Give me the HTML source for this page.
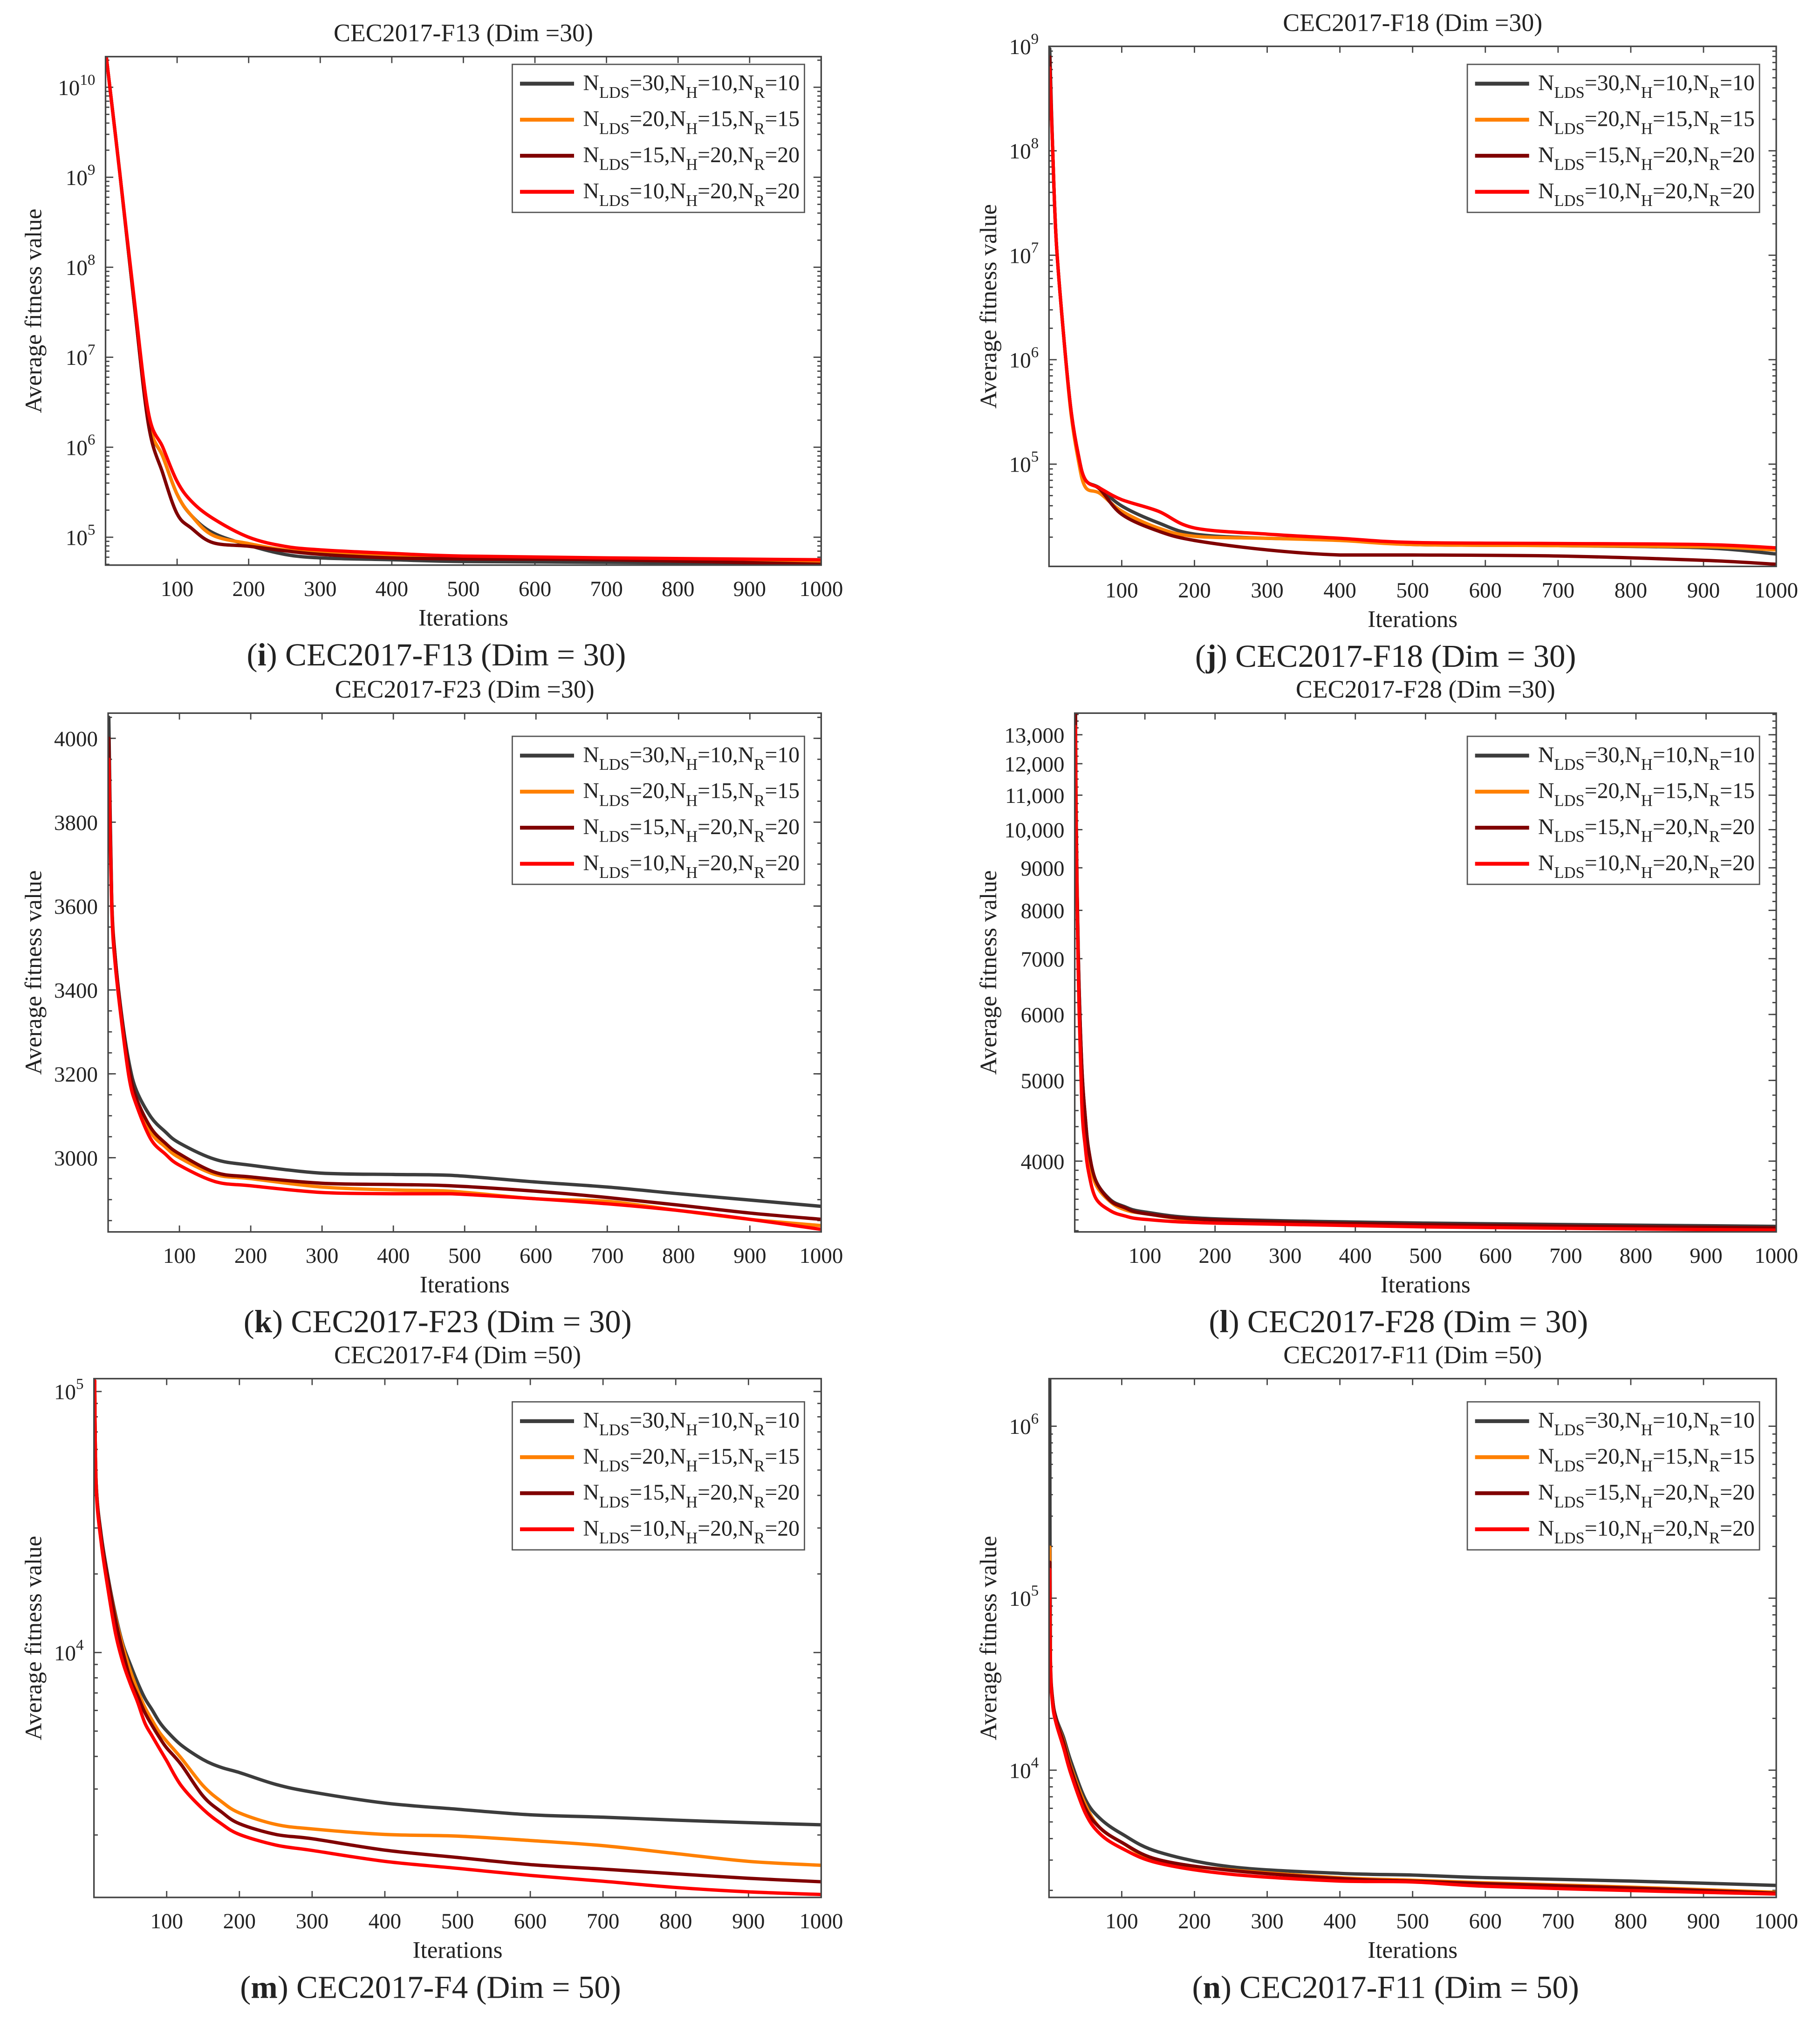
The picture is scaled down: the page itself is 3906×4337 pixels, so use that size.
<!DOCTYPE html>
<html><head><meta charset="utf-8"><style>
html,body{margin:0;padding:0;background:#fff;}
svg{display:block;}
text{font-family:"Liberation Serif",serif;fill:#222;}
</style></head><body>
<svg id="fig" xmlns="http://www.w3.org/2000/svg" width="3906" height="4337" viewBox="0 0 1414 1570" preserveAspectRatio="none"></svg>
<script>
// ---------- data ----------
const legendLabels = [["30","10","10"],["20","15","15"],["15","20","20"],["10","20","20"]];
const seriesColors = ["#3c3c3c","#ff8000","#800000","#ff0000"];

const f13Iter = [1,20,40,60,80,100,120,150,200,250,300,400,500,700,1000];
const f13Gray = [2.2e10,1.1e9,4e7,1.95e6,7.9e5,3.0e5,1.74e5,1.12e5,8.13e4,6.46e4,5.89e4,5.62e4,5.37e4,5.25e4,5.13e4];
const f13Orange = [2.2e10,1.1e9,4e7,2.0e6,7.9e5,3.0e5,1.74e5,1.05e5,8.5e4,7.24e4,6.76e4,6.31e4,6.03e4,5.75e4,5.37e4];
const f13Dark = [2.2e10,1.1e9,4e7,1.78e6,5.13e5,1.82e5,1.26e5,8.7e4,7.94e4,7.08e4,6.46e4,5.89e4,5.75e4,5.62e4,5.01e4];
const f13Red = [2.2e10,1.1e9,4.47e7,2.4e6,1e6,4.17e5,2.51e5,1.62e5,1e5,7.94e4,7.24e4,6.61e4,6.17e4,5.89e4,5.62e4];

const f18Iter = [1,5,10,20,30,40,50,70,100,150,200,300,400,500,700,900,1000];
const f18Gray = [9.5e8,1.05e8,1.35e7,1.74e6,3.39e5,1.26e5,7.08e4,5.89e4,3.98e4,2.75e4,2.14e4,1.95e4,1.91e4,1.70e4,1.66e4,1.58e4,1.38e4];
const f18Orange = [6.6e8,1.05e8,1.35e7,1.74e6,3.16e5,1.12e5,6.03e4,5.25e4,3.55e4,2.45e4,2.04e4,1.95e4,1.86e4,1.70e4,1.66e4,1.62e4,1.51e4];
const f18Dark = [7.9e8,1.05e8,1.35e7,1.74e6,3.39e5,1.26e5,7.08e4,5.75e4,3.31e4,2.29e4,1.86e4,1.51e4,1.35e4,1.35e4,1.32e4,1.2e4,1.1e4];
const f18Red = [6.2e8,1.05e8,1.35e7,1.74e6,3.39e5,1.26e5,7.08e4,5.89e4,4.57e4,3.55e4,2.45e4,2.14e4,1.95e4,1.78e4,1.74e4,1.70e4,1.58e4];

const f23Iter = [1,5,10,20,30,40,60,80,100,150,200,300,400,480,600,700,800,900,1000];
const f23Gray = [4050,3618,3477,3327,3221,3159,3097,3062,3035,2996,2982,2963,2960,2958,2942,2930,2914,2899,2884];
const f23Orange = [3950,3618,3477,3315,3195,3135,3060,3026,3000,2960,2950,2930,2923,2920,2902,2896,2874,2853,2838];
const f23Dark = [4000,3618,3477,3320,3205,3140,3071,3035,3009,2965,2954,2939,2936,2933,2920,2905,2887,2868,2853];
const f23Red = [3950,3600,3460,3309,3185,3124,3044,3009,2982,2943,2933,2917,2914,2914,2902,2890,2874,2853,2829];

const f28Iter = [1,2,5,10,15,20,30,50,70,100,200,500,1000];
const f28Gray = [13800,10400,7100,5210,4520,4120,3790,3600,3530,3475,3410,3370,3340];
const f28Orange = [13500,10400,7000,5100,4450,4050,3750,3580,3500,3460,3390,3350,3315];
const f28Dark = [13800,10400,7100,5210,4520,4120,3790,3590,3520,3460,3400,3355,3325];
const f28Red = [13300,10000,6745,4700,4160,3870,3610,3490,3440,3405,3370,3335,3305];

const f4Iter = [1,3,10,20,30,40,50,60,70,80,90,100,120,150,175,200,250,300,400,500,600,700,800,900,1000];
const f4Gray = [1.1e5,4.47e4,2.82e4,1.9e4,1.38e4,1.07e4,9000,7670,6680,6030,5420,5010,4420,3890,3630,3470,3125,2920,2650,2510,2390,2340,2280,2230,2188];
const f4Orange = [1.1e5,4.47e4,2.75e4,1.86e4,1.35e4,1.05e4,8510,7160,6170,5500,4950,4570,3940,3090,2690,2430,2195,2110,2010,1980,1905,1820,1698,1585,1531];
const f4Dark = [1.1e5,4.47e4,2.75e4,1.86e4,1.32e4,1.0e4,7940,6840,5890,5250,4730,4310,3720,2820,2455,2210,2010,1935,1750,1640,1540,1480,1420,1365,1324];
const f4Red = [1.1e5,4.3e4,2.63e4,1.7e4,1.17e4,9120,7590,6460,5370,4790,4290,3850,3090,2510,2210,2010,1830,1745,1585,1490,1400,1330,1259,1211,1183];

const f11Iter = [1,2,5,10,20,30,50,70,100,150,250,400,500,600,800,1000];
const f11Gray = [1.9e6,4.27e4,2.57e4,2.0e4,1.55e4,1.13e4,6761,5248,4266,3350,2742,2512,2455,2371,2265,2138];
const f11Orange = [1.98e5,4.27e4,2.57e4,1.95e4,1.48e4,1.05e4,6310,4624,3802,2951,2630,2371,2291,2213,2089,1950];
const f11Dark = [1.62e5,4.27e4,2.57e4,1.95e4,1.45e4,1.02e4,6026,4624,3802,3020,2612,2344,2265,2188,2065,1928];
const f11Red = [1.47e5,3.98e4,2.4e4,1.86e4,1.35e4,9550,5623,4266,3516,2884,2483,2265,2239,2113,1995,1905];

const xTickValues = [100,200,300,400,500,600,700,800,900,1000];
const f23TickValues = [3000,3200,3400,3600,3800,4000];
const f28TickValues = [4000,5000,6000,7000,8000,9000,10000,11000,12000,13000];
const f28TickLabels = ["4000","5000","6000","7000","8000","9000","10,000","11,000","12,000","13,000"];

// ---------- drawing ----------
const NS="http://www.w3.org/2000/svg";
const svg=document.getElementById('fig');
function mk(tag,attrs,parent){const e=document.createElementNS(NS,tag);for(const k in attrs)e.setAttribute(k,attrs[k]);(parent||svg).appendChild(e);return e;}

const panels=[
 {id:"f13",title:"CEC2017-F13 (Dim =30)",cap:"i",capText:" CEC2017-F13 (Dim = 30)",L:82,R:638,T:44,B:439,log:true,ymin:4.9e4,ymax:2.19e10,decades:[5,6,7,8,9,10],iter:f13Iter,ser:[f13Gray,f13Orange,f13Dark,f13Red],ylx:26},
 {id:"f18",title:"CEC2017-F18 (Dim =30)",cap:"j",capText:" CEC2017-F18 (Dim = 30)",L:815,R:1380,T:36,B:440,log:true,ymin:1.05e4,ymax:1e9,decades:[5,6,7,8,9],iter:f18Iter,ser:[f18Gray,f18Orange,f18Dark,f18Red],ylx:768},
 {id:"f23",title:"CEC2017-F23 (Dim =30)",cap:"k",capText:" CEC2017-F23 (Dim = 30)",L:84,R:638,T:554,B:957,log:false,ymin:2823,ymax:4060,ticks:f23TickValues,tickLabels:null,minorStep:50,iter:f23Iter,ser:[f23Gray,f23Orange,f23Dark,f23Red],ylx:26},
 {id:"f28",title:"CEC2017-F28 (Dim =30)",cap:"l",capText:" CEC2017-F28 (Dim = 30)",L:835,R:1380,T:554,B:957,log:true,ymin:3289,ymax:13800,ticks:f28TickValues,tickLabels:f28TickLabels,minorList:true,iter:f28Iter,ser:[f28Gray,f28Orange,f28Dark,f28Red],ylx:768},
 {id:"f4",title:"CEC2017-F4 (Dim =50)",cap:"m",capText:" CEC2017-F4 (Dim = 50)",L:73,R:638,T:1071,B:1474,log:true,ymin:1153,ymax:1.12e5,decades:[4,5],iter:f4Iter,ser:[f4Gray,f4Orange,f4Dark,f4Red],ylx:26},
 {id:"f11",title:"CEC2017-F11 (Dim =50)",cap:"n",capText:" CEC2017-F11 (Dim = 50)",L:815,R:1380,T:1071,B:1474,log:true,ymin:1820,ymax:1.89e6,decades:[4,5,6],iter:f11Iter,ser:[f11Gray,f11Orange,f11Dark,f11Red],ylx:768}
];

panels.forEach((p,pi)=>{
  const g=mk('g',{});
  
  
  const xs=v=>p.L+(v-0)/1000*(p.R-p.L);
  const ys=v=>{ if(p.log){const a=Math.log10(p.ymin),b=Math.log10(p.ymax);return p.B-(Math.log10(v)-a)/(b-a)*(p.B-p.T);} return p.B-(v-p.ymin)/(p.ymax-p.ymin)*(p.B-p.T);};
  const cx=(p.L+p.R)/2, cy=(p.T+p.B)/2;
  const cp=mk('clipPath',{id:'clip'+pi},g); mk('rect',{x:p.L,y:p.T,width:p.R-p.L,height:p.B-p.T},cp);
  const t=mk('text',{x:cx,y:p.T-12,'text-anchor':'middle','font-size':19.5},g); t.textContent=p.title;
   
  const tk=mk('g',{stroke:'#444','stroke-width':1},g);
   
  xTickValues.forEach(v=>{
    const x=xs(v);
    mk('line',{x1:x,y1:p.B,x2:x,y2:p.B-5},tk); mk('line',{x1:x,y1:p.T,x2:x,y2:p.T+5},tk);
    const l=mk('text',{x:x,y:p.B+24,'text-anchor':'middle','font-size':17,stroke:'none'},g); l.textContent=v;
     
  });
  const xl=mk('text',{x:cx,y:p.B+47,'text-anchor':'middle','font-size':18.5},g); xl.textContent='Iterations';
   
  const yl=mk('text',{x:0,y:0,'text-anchor':'middle','font-size':18.5,transform:`translate(${p.ylx+6},${cy}) rotate(-90)`},g); yl.textContent='Average fitness value';
   
  const yt=mk('g',{stroke:'#444','stroke-width':1},g);
   
  function minor(y){ if(y<p.T-0.5||y>p.B+0.5)return; mk('line',{x1:p.L,y1:y,x2:p.L+3,y2:y},yt); mk('line',{x1:p.R,y1:y,x2:p.R-3,y2:y},yt);}
  function major(y){ mk('line',{x1:p.L,y1:y,x2:p.L+6,y2:y},yt); mk('line',{x1:p.R,y1:y,x2:p.R-6,y2:y},yt);}
  if(p.decades){
    const lo=Math.floor(Math.log10(p.ymin)), hi=Math.ceil(Math.log10(p.ymax));
    for(let d=lo;d<=hi;d++) for(let m=2;m<=9;m++) minor(ys(m*Math.pow(10,d)));
    p.decades.forEach(d=>{
      const y=ys(Math.pow(10,d)); major(y);
      const tx=mk('text',{x:p.L-8,y:y+6,'text-anchor':'end','font-size':17,stroke:'none'},g);
      const a=mk('tspan',{},tx); a.textContent='10';
      const b=mk('tspan',{dy:-8,'font-size':12},tx); b.textContent=String(d);
       
    });
  } else {
    if(p.minorList){ for(let v=3300;v<=13800;v+=(v<4000?100:(v<10000?200:250))) minor(ys(v)); }
    else { for(let v=Math.ceil(p.ymin/p.minorStep)*p.minorStep;v<=p.ymax;v+=p.minorStep) minor(ys(v)); }
    p.ticks.forEach((v,i)=>{
      const y=ys(v); major(y);
      const tx=mk('text',{x:p.L-8,y:y+6,'text-anchor':'end','font-size':17,stroke:'none'},g);
      tx.textContent=p.tickLabels?p.tickLabels[i]:String(v);
       
    });
  }
  const sg=mk('g',{'clip-path':`url(#clip${pi})`,fill:'none','stroke-width':2.6,'stroke-linejoin':'round','stroke-linecap':'round'},g);
  p.ser.forEach((vals,si)=>{
    const pts=p.iter.map((it,k)=>[xs(it),ys(vals[k])]);
    let d='M'+pts[0][0].toFixed(2)+','+pts[0][1].toFixed(2);
    for(let k=0;k<pts.length-1;k++){
      const p0=pts[Math.max(0,k-1)],p1=pts[k],p2=pts[k+1],p3=pts[Math.min(pts.length-1,k+2)];
      let c1x=p1[0]+(p2[0]-p0[0])/6,c1y=p1[1]+(p2[1]-p0[1])/6,c2x=p2[0]-(p3[0]-p1[0])/6,c2y=p2[1]-(p3[1]-p1[1])/6;
      c1y=Math.min(Math.max(c1y,Math.min(p1[1],p2[1])),Math.max(p1[1],p2[1]));
      c2y=Math.min(Math.max(c2y,Math.min(p1[1],p2[1])),Math.max(p1[1],p2[1]));
      d+=` C${c1x.toFixed(2)},${c1y.toFixed(2)} ${c2x.toFixed(2)},${c2y.toFixed(2)} ${p2[0].toFixed(2)},${p2[1].toFixed(2)}`;
    }
    const path=mk('path',{d:d,stroke:seriesColors[si]},sg);
    
    
  });
  const box=mk('rect',{x:p.L,y:p.T,width:p.R-p.L,height:p.B-p.T,fill:'none',stroke:'#444','stroke-width':1.2},g);
   
  const lx=p.R-240, ly=p.T+6 + (p.id==='f18'?8:0) + ((p.id==='f23'||p.id==='f28')?12:0) + ((p.id==='f4'||p.id==='f11')?12:0);
  const lg=mk('g',{},g);
   
  mk('rect',{x:lx,y:ly,width:227,height:115,fill:'#fff',stroke:'#555','stroke-width':1},lg);
  legendLabels.forEach((lab,i)=>{
    const yy=ly+15+i*28;
    const e=mk('g',{},lg);
     
    mk('line',{x1:lx+6,y1:yy,x2:lx+48,y2:yy,stroke:seriesColors[i],'stroke-width':3},e);
    const tx=mk('text',{x:lx+55,y:yy+5,'font-size':17.3},e);
    const parts=[['N',0],['LDS',1],['='+lab[0]+',N',0],['H',1],['='+lab[1]+',N',0],['R',1],['='+lab[2],0]];
    let sub=false;
    parts.forEach(([s,isSub])=>{
      const ts=mk('tspan',{},tx);
      if(isSub){ts.setAttribute('font-size','12.5');ts.setAttribute('dy','6');sub=true;}
      else if(sub){ts.setAttribute('dy','-6');sub=false;}
      ts.textContent=s;
    });
  });
  const cap=mk('text',{x:cx-21,y:p.B+78,'text-anchor':'middle','font-size':25},g);
  const c1=mk('tspan',{},cap); c1.textContent='(';
  const c2=mk('tspan',{'font-weight':'bold'},cap); c2.textContent=p.cap;
  const c3=mk('tspan',{},cap); c3.textContent=')'+p.capText;
   
});
</script>
</body></html>
